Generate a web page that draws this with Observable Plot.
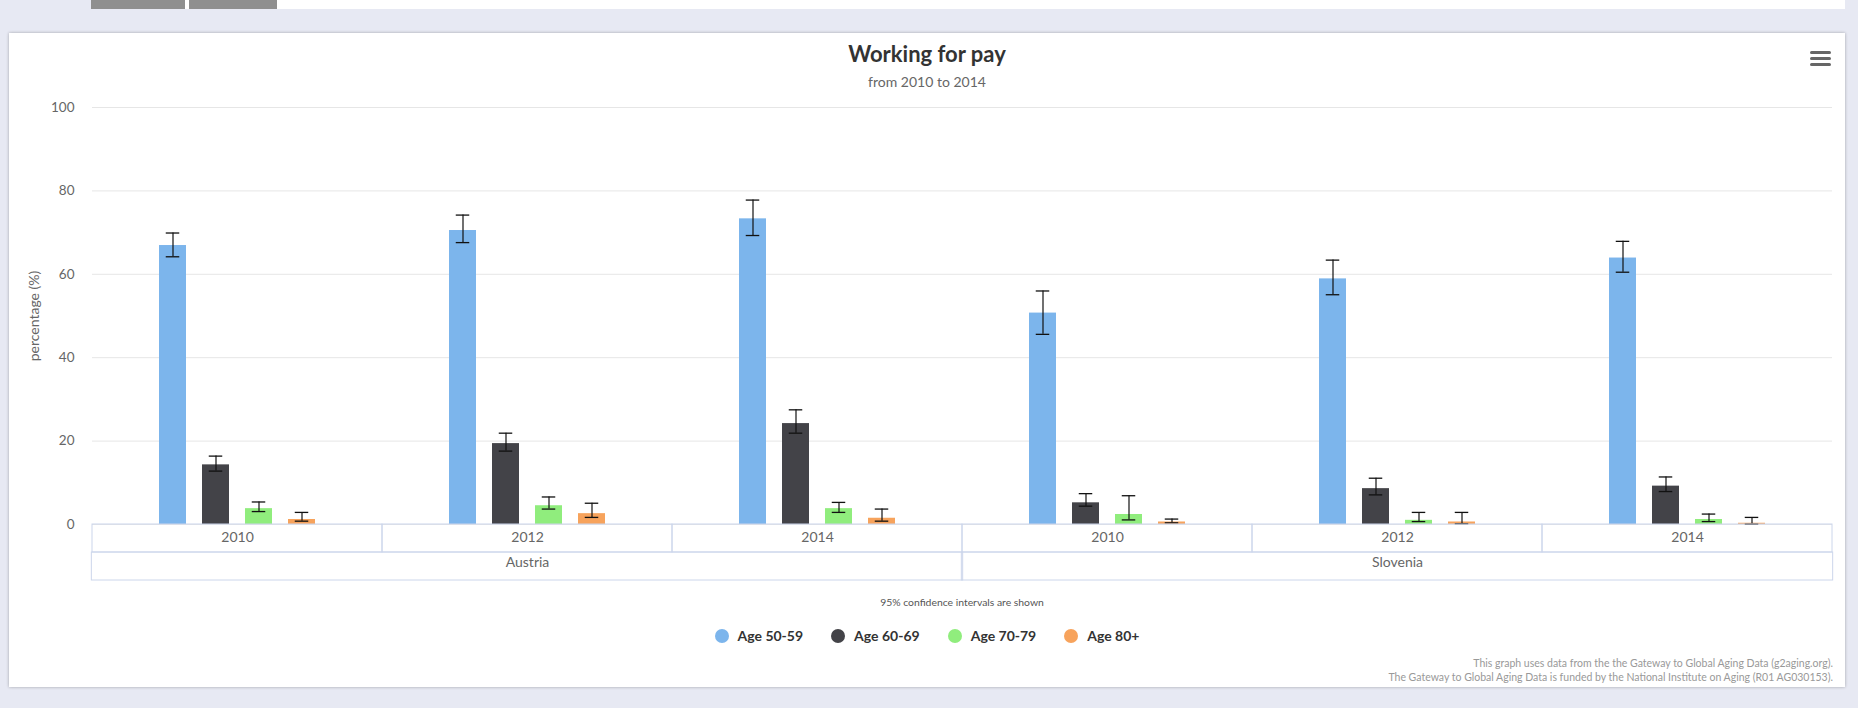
<!DOCTYPE html>
<html><head><meta charset="utf-8">
<script src="https://cdn.jsdelivr.net/npm/d3@7"></script>
<script src="https://cdn.jsdelivr.net/npm/@observablehq/plot@0.6"></script>
<style>
html,body{margin:0;padding:0;}
body{width:1858px;height:708px;background:#e7e9f3;position:relative;overflow:hidden;font-family:Lato,"Open Sans",sans-serif;}
.abs{position:absolute;}
#tabbar{left:91px;top:0;width:1754px;height:9px;background:#fff;}
.tab{top:0;height:9px;background:#8f8f8f;}
#card{left:9px;top:33px;width:1836px;height:654px;background:#fff;box-shadow:0 0 3px rgba(0,0,0,0.3);}
#title{left:9px;width:1836px;top:43px;text-align:center;font-size:22px;line-height:22px;font-weight:700;color:#333;white-space:nowrap;}
#subtitle{left:9px;width:1836px;top:75px;text-align:center;font-size:14px;line-height:14px;color:#666;white-space:nowrap;}
.bar{left:1810px;width:21px;height:3px;border-radius:1.5px;background:#666;}
#chart{left:9px;top:90px;}
#note{left:762px;width:400px;top:596px;text-align:center;font-size:10.4px;line-height:12px;color:#555;}
#legend{left:527px;width:800px;top:628px;display:flex;justify-content:center;gap:28px;}
.item{display:flex;align-items:center;font-size:14px;line-height:15px;font-weight:700;color:#333;white-space:nowrap;}
.dot{width:14px;height:14px;border-radius:7px;margin-right:9px;}
#credits{right:25px;top:656px;text-align:right;font-size:10.5px;line-height:14px;color:#999;white-space:nowrap;}
</style></head>
<body>
<div id="tabbar" class="abs"></div>
<div class="abs tab" style="left:91px;width:94px"></div>
<div class="abs tab" style="left:189px;width:88px"></div>
<div id="card" class="abs"></div>
<div id="title" class="abs"></div>
<div id="subtitle" class="abs"></div>
<div class="abs bar" style="top:51px"></div>
<div class="abs bar" style="top:57px"></div>
<div class="abs bar" style="top:63px"></div>
<div id="chart" class="abs"></div>
<div id="note" class="abs"></div>
<div id="legend" class="abs"></div>
<div id="credits" class="abs"></div>
<script>
// ---- data ----
const titleText = "Working for pay";
const subtitleText = "from 2010 to 2014";
const yLabel = "percentage (%)";
const noteText = "95% confidence intervals are shown";
const creditLines = [
  "This graph uses data from the the Gateway to Global Aging Data (g2aging.org).",
  "The Gateway to Global Aging Data is funded by the National Institute on Aging (R01 AG030153)."
];
const countries = ["Austria", "Slovenia"];
const years = ["2010", "2012", "2014"];
const ages = ["Age 50-59", "Age 60-69", "Age 70-79", "Age 80+"];
const colors = ["#7cb5ec", "#434348", "#90ed7d", "#f7a35c"];
const yTicks = [0, 20, 40, 60, 80, 100];
// values per series, order: Austria 2010, 2012, 2014, Slovenia 2010, 2012, 2014
const age5059 = [66.9, 70.5, 73.3, 50.7, 58.9, 63.9];
const age5059Lo = [64.2, 67.6, 69.3, 45.6, 55.1, 60.5];
const age5059Hi = [69.9, 74.2, 77.8, 56.0, 63.4, 67.9];
const age6069 = [14.3, 19.4, 24.2, 5.2, 8.6, 9.2];
const age6069Lo = [12.8, 17.6, 21.9, 4.4, 7.1, 7.9];
const age6069Hi = [16.4, 21.9, 27.5, 7.4, 11.1, 11.4];
const age7079 = [3.8, 4.5, 3.8, 2.4, 1.0, 1.2];
const age7079Lo = [3.1, 3.7, 2.9, 1.1, 0.7, 0.7];
const age7079Hi = [5.4, 6.6, 5.3, 6.9, 2.9, 2.5];
const age80 = [1.2, 2.6, 1.5, 0.6, 0.6, 0.3];
const age80Lo = [0.8, 1.7, 0.8, 0.4, 0.2, 0.1];
const age80Hi = [2.9, 5.1, 3.7, 1.3, 2.9, 1.7];

const series = [age5059, age6069, age7079, age80];
const lows = [age5059Lo, age6069Lo, age7079Lo, age80Lo];
const highs = [age5059Hi, age6069Hi, age7079Hi, age80Hi];

// ---- build tables ----
const facetKeys = countries.flatMap(c => years.map(y => c + " " + y));
const rows = [];
countries.forEach((c, ci) => years.forEach((yr, yi) => {
  const k = ci * years.length + yi;
  ages.forEach((a, ai) => rows.push({key: c + " " + yr, age: a, value: series[ai][k], lo: lows[ai][k], hi: highs[ai][k]}));
}));
const cells = facetKeys.map((key, i) => ({key, year: years[i % years.length]}));
const countryCells = countries.map(c => ({key: c + " " + years[1], country: c}));

// ---- text ----
document.getElementById("title").textContent = titleText;
document.getElementById("subtitle").textContent = subtitleText;
document.getElementById("note").textContent = noteText;
document.getElementById("credits").innerHTML = creditLines.join("<br>");
const legend = document.getElementById("legend");
ages.forEach((a, i) => {
  const it = document.createElement("div"); it.className = "item";
  const d = document.createElement("span"); d.className = "dot"; d.style.background = colors[i];
  it.appendChild(d); it.appendChild(document.createTextNode(a));
  legend.appendChild(it);
});

// ---- chart ----
const W = 1836, H = 494, mL = 81, mR = 11, mT = 17, mB = 60;
const facetW = (W - mL - mR) / facetKeys.length;
const line = "#ccd6eb";
const chart = Plot.plot({
  width: W, height: H, marginLeft: mL, marginRight: mR, marginTop: mT, marginBottom: mB,
  style: {fontFamily: "Lato, sans-serif", fontSize: "13.5px", color: "#666", background: "transparent", overflow: "visible"},
  fx: {domain: facetKeys, padding: 0, axis: null},
  x: {domain: ages, paddingInner: 0.368, paddingOuter: 1.525, axis: null},
  y: {domain: [0, 100], axis: null},
  color: {domain: ages, range: colors},
  marks: [
    Plot.gridY(yTicks, {stroke: "#e6e6e6", strokeOpacity: 1}),
    Plot.axisY(yTicks, {tickSize: 0, tickPadding: 18, fill: "#666", fontSize: 13.5, label: null}),
    Plot.axisY(yTicks, {tickSize: 0, text: null, fill: "#666", fontSize: 14, label: yLabel, labelArrow: "none", labelAnchor: "center", labelOffset: 63}),
    Plot.barY(rows, {fx: "key", x: "age", y: "value", fill: "age"}),
    Plot.ruleX(rows, {fx: "key", x: "age", y1: "lo", y2: "hi", stroke: "#111", strokeWidth: 1.2}),
    Plot.tickY(rows, {fx: "key", x: "age", y: "lo", stroke: "#111", strokeWidth: 1.3, insetLeft: 6.75, insetRight: 6.75}),
    Plot.tickY(rows, {fx: "key", x: "age", y: "hi", stroke: "#111", strokeWidth: 1.3, insetLeft: 6.75, insetRight: 6.75}),
    Plot.rect(cells, {fx: "key", y1: () => 0, y2: () => 0, insetBottom: -28, fill: "none", stroke: line}),
    Plot.rect(countryCells, {fx: "key", y1: () => 0, y2: () => 0, insetTop: 28, insetBottom: -56, insetLeft: -facetW, insetRight: -facetW, fill: "none", stroke: line}),
    Plot.text(cells, {fx: "key", text: "year", frameAnchor: "bottom", dy: 17.5, fill: "#666", fontSize: 14}),
    Plot.text(countryCells, {fx: "key", text: "country", frameAnchor: "bottom", dy: 42, fill: "#666", fontSize: 14})
  ]
});
document.getElementById("chart").appendChild(chart);
</script>
</body></html>
